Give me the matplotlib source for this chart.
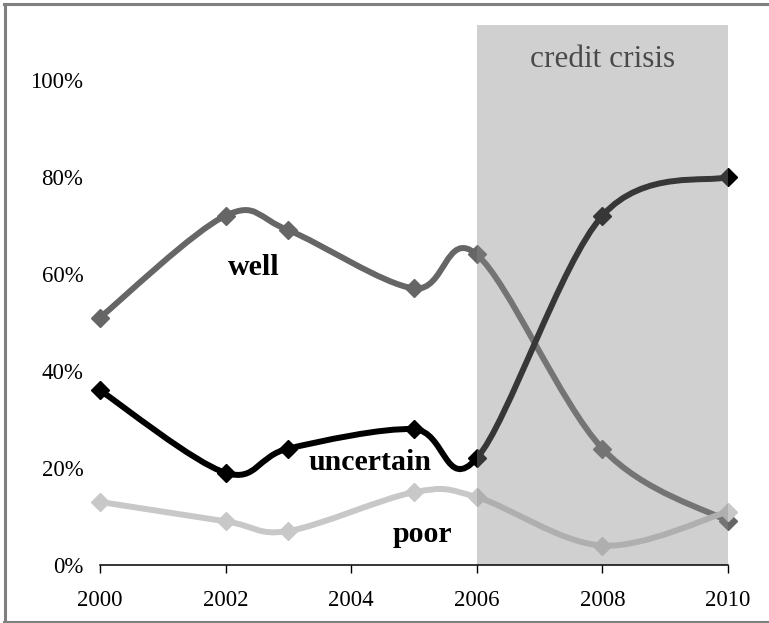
import numpy as np
import matplotlib
matplotlib.use("Agg")
import matplotlib.pyplot as plt
from matplotlib.path import Path
from matplotlib.patches import PathPatch
from matplotlib.lines import Line2D

# Survey shares by year (percent)
years = [2000, 2002, 2003, 2005, 2006, 2008, 2010]
well = [51, 72, 69, 57, 64, 24, 9]
uncertain = [36, 19, 24, 28, 22, 72, 80]
poor = [13, 9, 7, 15, 14, 4, 11]

series_names = ["well", "uncertain", "poor"]
series_colors = ["#666666", "#000000", "#c8c8c8"]

y_ticks = [0, 20, 40, 60, 80, 100]
x_ticks = [2000, 2002, 2004, 2006, 2008, 2010]
crisis_span = (2006, 2010)

plt.rcParams["font.family"] = ["Liberation Serif", "DejaVu Serif"]

W, H = 769, 623
fig = plt.figure(figsize=(W / 100, H / 100), dpi=100)
ax = fig.add_axes([100 / W, (H - 565) / H, (728 - 100) / W, (565 - 25) / H])


def smooth_path(xs, ys):
    """Catmull-Rom style cubic Bezier path through the points."""
    pts = np.column_stack([xs, ys]).astype(float)
    n = len(pts)
    verts = [pts[0]]
    codes = [Path.MOVETO]
    for i in range(n - 1):
        p0 = pts[i - 1] if i > 0 else pts[i]
        p1 = pts[i]
        p2 = pts[i + 1]
        p3 = pts[i + 2] if i + 2 < n else pts[i + 1]
        b1 = p1 + (p2 - p0) / 6.0
        b2 = p2 - (p3 - p1) / 6.0
        verts += [b1, b2, p2]
        codes += [Path.CURVE4] * 3
    return Path(verts, codes)


for vals, color in zip([well, uncertain, poor], series_colors):
    patch = PathPatch(smooth_path(years, vals), facecolor="none", edgecolor=color,
                      linewidth=4.3, capstyle="round", joinstyle="round", zorder=3)
    ax.add_patch(patch)
    ax.plot(years, vals, linestyle="none", marker="D", markersize=9.5,
            color=color, zorder=4, clip_on=False)

# Series labels
ax.text(2002.45, 59.8, "well", fontsize=21.5, fontweight="bold", ha="center", va="baseline", zorder=5)
ax.text(2004.3, 19.6, "uncertain", fontsize=21.5, fontweight="bold", ha="center", va="baseline", zorder=5)
ax.text(2005.14, 4.7, "poor", fontsize=21.5, fontweight="bold", ha="center", va="baseline", zorder=5)

# Crisis period shading
ax.text(2008, 102.7, "credit crisis", fontsize=22.5, color="#1e1e1e", ha="center", va="baseline", zorder=5)
ax.axvspan(*crisis_span, facecolor="#8b8b8b", alpha=0.4, edgecolor="none", zorder=6)

ax.set_xlim(2000, 2010)
ax.set_ylim(0, 111.3)
ax.set_xticks(x_ticks)
ax.set_xticklabels([str(x) for x in x_ticks])
ax.set_yticks(y_ticks)
ax.set_yticklabels([f"{v}%" for v in y_ticks])
ax.tick_params(axis="x", direction="out", length=6, width=1, pad=12, labelsize=16.5)
ax.tick_params(axis="y", length=0, pad=12, labelsize=16.5)
for side in ["top", "right", "left"]:
    ax.spines[side].set_visible(False)
ax.spines["bottom"].set_linewidth(1.1)
ax.spines["bottom"].set_zorder(7)
ax.patch.set_alpha(0)

# Outer frame
frame_color = "#808080"
fig.add_artist(Line2D([4.5 / W, 4.5 / W], [0, 1 - 3.5 / H], transform=fig.transFigure, color=frame_color, lw=2.2))
fig.add_artist(Line2D([3.5 / W, 1], [1 - 3.5 / H, 1 - 3.5 / H], transform=fig.transFigure, color=frame_color, lw=2.2))
fig.add_artist(Line2D([3.5 / W, 1], [1.2 / H, 1.2 / H], transform=fig.transFigure, color=frame_color, lw=1.5))

fig.savefig("out.png", dpi=100)
